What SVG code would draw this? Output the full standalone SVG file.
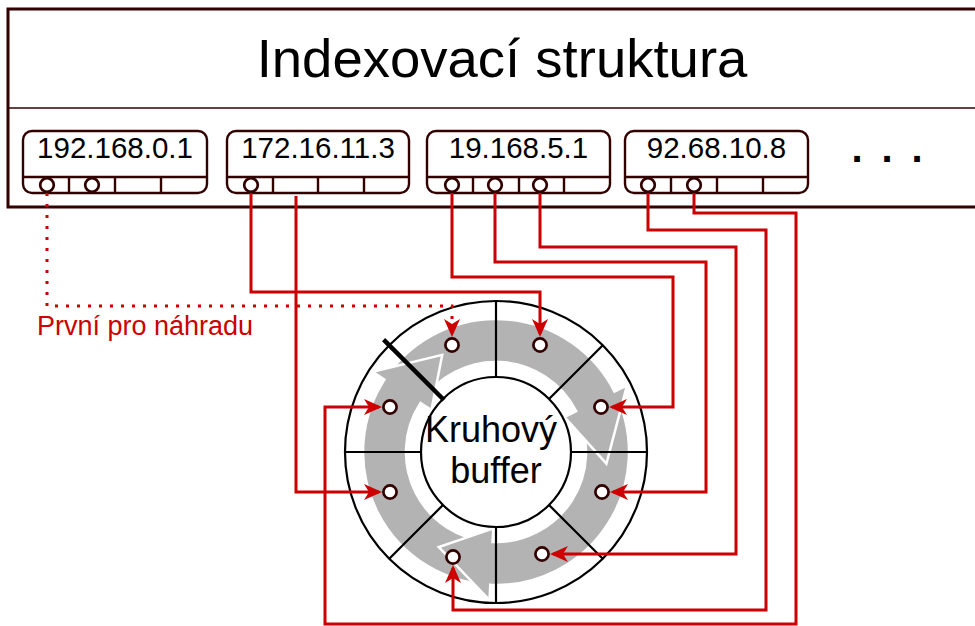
<svg xmlns="http://www.w3.org/2000/svg" width="975" height="626" viewBox="0 0 975 626">
  <defs>
    <marker id="arrow" viewBox="0 0 18 16" refX="15" refY="8" markerWidth="18" markerHeight="16" markerUnits="userSpaceOnUse" orient="auto">
      <path d="M0,0 L18,8 L0,16 L5,8 Z" fill="#CC0000"/>
    </marker>
  </defs>
  <style>
    .frame{fill:#fff;stroke:#330000;stroke-width:3}
    .sep{stroke:#330000;stroke-width:1.5}
    .entry rect{fill:#fff;stroke:#330000;stroke-width:2.4}
    .entry line{stroke:#330000;stroke-width:2.4}
    .slot{fill:#fff;stroke:#330000;stroke-width:2.7}
    .ip{font-family:"Liberation Sans",Arial,sans-serif;font-size:29.5px;fill:#000;text-anchor:middle}
    .link{fill:none;stroke:#CC0000;stroke-width:3;marker-end:url(#arrow)}
    .dotted{stroke-dasharray:3 8}
    .cycle{fill:#B3B3B3;stroke:#fff;stroke-width:2.5}
    .spoke{stroke:#000;stroke-width:2.2}
  </style>

  <!-- index structure frame -->
  <g id="index">
    <rect class="frame" x="8" y="9" width="985" height="198"/>
    <line class="sep" x1="8" y1="108" x2="975" y2="108"/>
    <text x="502" y="77" font-family="'Liberation Sans',Arial,sans-serif" font-size="54.5" text-anchor="middle" fill="#000">Indexovací struktura</text>
    <text x="887" y="162" font-family="'Liberation Sans',Arial,sans-serif" font-size="40" font-weight="bold" word-spacing="7.8" text-anchor="middle" fill="#000">. . .</text>
  </g>

  <!-- entries -->
  <g id="entry1" class="entry">
    <rect x="23" y="131" width="184" height="62" rx="9"/>
    <line x1="23" y1="177" x2="207" y2="177"/>
    <line x1="69" y1="177" x2="69" y2="193"/>
    <line x1="115" y1="177" x2="115" y2="193"/>
    <line x1="161" y1="177" x2="161" y2="193"/>
    <circle class="slot" cx="47" cy="185" r="6.8"/>
    <circle class="slot" cx="92" cy="185" r="6.8"/>
    <text class="ip" x="115" y="158">192.168.0.1</text>
  </g>
  <g id="entry2" class="entry">
    <rect x="227" y="131" width="182" height="62" rx="9"/>
    <line x1="227" y1="177" x2="409" y2="177"/>
    <line x1="273" y1="177" x2="273" y2="193"/>
    <line x1="318" y1="177" x2="318" y2="193"/>
    <line x1="364" y1="177" x2="364" y2="193"/>
    <circle class="slot" cx="251" cy="185" r="6.8"/>
    <text class="ip" x="318" y="158">172.16.11.3</text>
  </g>
  <g id="entry3" class="entry">
    <rect x="427" y="131" width="183" height="62" rx="9"/>
    <line x1="427" y1="177" x2="610" y2="177"/>
    <line x1="473" y1="177" x2="473" y2="193"/>
    <line x1="519" y1="177" x2="519" y2="193"/>
    <line x1="564" y1="177" x2="564" y2="193"/>
    <circle class="slot" cx="452" cy="185" r="6.8"/>
    <circle class="slot" cx="495" cy="185" r="6.8"/>
    <circle class="slot" cx="540" cy="185" r="6.8"/>
    <text class="ip" x="518.5" y="158">19.168.5.1</text>
  </g>
  <g id="entry4" class="entry">
    <rect x="625" y="131" width="183" height="62" rx="9"/>
    <line x1="625" y1="177" x2="808" y2="177"/>
    <line x1="671" y1="177" x2="671" y2="193"/>
    <line x1="717" y1="177" x2="717" y2="193"/>
    <line x1="763" y1="177" x2="763" y2="193"/>
    <circle class="slot" cx="648" cy="185" r="6.8"/>
    <circle class="slot" cx="694" cy="185" r="6.8"/>
    <text class="ip" x="716.5" y="158">92.68.10.8</text>
  </g>

  <!-- ring buffer -->
  <g id="ring">
    <circle cx="496" cy="452" r="151" fill="#fff" stroke="#000" stroke-width="2.2"/>
    <!-- clockwise cycle arrows -->
    <path class="cycle" d="M614.5,391.6 A133,133 0 0 1 489.0,584.8 L488.3,598.8 L438.8,547.1 L492.0,528.9 L491.3,541.9 A90,90 0 0 0 576.2,411.1 L606.6,442.3 Z"/>
    <path class="cycle" d="M384.5,379.6 A133,133 0 0 1 614.5,391.6 L627.0,385.3 L606.4,463.6 L564.6,417.0 L576.2,411.1 A90,90 0 0 0 420.5,403.0 L432.3,361.1 Z"/>
    <path class="cycle" d="M489.0,584.8 A133,133 0 0 1 384.5,379.6 L372.7,371.9 L442.2,354.9 L431.4,410.1 L420.5,403.0 A90,90 0 0 0 491.3,541.9 L449.1,552.6 Z"/>
    <path d="M488.3,598.8 L438.8,547.1 L492.0,528.9 Z" fill="#B3B3B3"/>
    <path d="M488.3,598.8 L438.8,547.1 L492.0,528.9" fill="none" stroke="#fff" stroke-width="2.5"/>
    <!-- slot dividers -->
    <line class="spoke" x1="496" y1="377" x2="496" y2="301"/>
    <line class="spoke" x1="549" y1="399" x2="602.8" y2="345.2"/>
    <line class="spoke" x1="571" y1="452" x2="647" y2="452"/>
    <line class="spoke" x1="549" y1="505" x2="602.8" y2="558.8"/>
    <line class="spoke" x1="496" y1="527" x2="496" y2="603"/>
    <line class="spoke" x1="443" y1="505" x2="389.2" y2="558.8"/>
    <line class="spoke" x1="421" y1="452" x2="345" y2="452"/>
    <line class="spoke" x1="443" y1="399" x2="389.2" y2="345.2"/>
    <circle cx="496" cy="452" r="75" fill="#fff" stroke="#000" stroke-width="2.2"/>
    <!-- current position marker -->
    <line x1="444" y1="400" x2="383.6" y2="339.6" stroke="#000" stroke-width="4.5"/>
    <text font-family="'Liberation Sans',Arial,sans-serif" font-size="36" text-anchor="middle" fill="#000">
      <tspan x="496" y="442">Kruhový</tspan>
      <tspan x="496" y="483">buffer</tspan>
    </text>
    <circle class="slot" cx="452" cy="345" r="6.6"/>
    <circle class="slot" cx="540" cy="345" r="6.6"/>
    <circle class="slot" cx="390" cy="407" r="6.6"/>
    <circle class="slot" cx="601" cy="407" r="6.6"/>
    <circle class="slot" cx="390" cy="492" r="6.6"/>
    <circle class="slot" cx="602" cy="492" r="6.6"/>
    <circle class="slot" cx="453" cy="557" r="6.6"/>
    <circle class="slot" cx="542" cy="554" r="6.6"/>
  </g>

  <!-- pointers from entries to buffer slots -->
  <g id="connectors">
    <path class="link dotted" d="M47,193 L47,306 L452,306 L452,334"/>
    <path class="link" d="M251,193 L251,292 L540,292 L540,334"/>
    <path class="link" d="M296,196 L296,492 L379,492"/>
    <path class="link" d="M452,193 L452,277 L673,277 L673,407 L612,407"/>
    <path class="link" d="M495,193 L495,262 L706,262 L706,492 L613,492"/>
    <path class="link" d="M540,193 L540,247 L736,247 L736,554 L553,554"/>
    <path class="link" d="M648,193 L648,230 L766,230 L766,610 L453,610 L453,568"/>
    <path class="link" d="M694,193 L694,213 L796,213 L796,624 L325,624 L325,407 L379,407"/>
  </g>

  <text id="label" x="37" y="335" font-family="'Liberation Sans',Arial,sans-serif" font-size="27" fill="#CC0000">První pro náhradu</text>
</svg>
